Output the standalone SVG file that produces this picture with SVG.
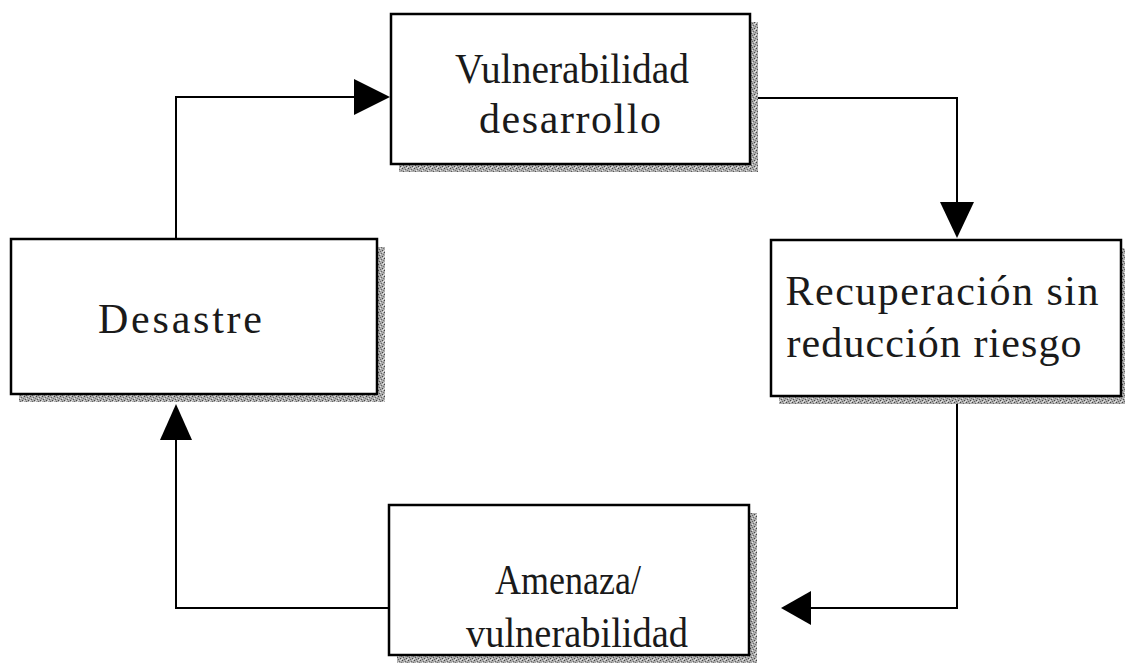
<svg xmlns="http://www.w3.org/2000/svg" width="1125" height="668" viewBox="0 0 1125 668">
  <style>
    .box { fill: #ffffff; stroke: #000000; stroke-width: 2.5; }
    .shadow { fill: url(#speckle); }
    .label { font-family: "Liberation Serif", "Times New Roman", serif; font-size: 42px; fill: #1a1a1a; text-anchor: middle; }
    .conn { fill: none; stroke: #000000; stroke-width: 2; }
    .head { fill: #000000; }
  </style>
  <defs>
    <pattern id="speckle" width="6" height="6" patternUnits="userSpaceOnUse">
      <rect width="6" height="6" fill="#acacac"/>
      <rect x="0" y="0" width="1" height="1" fill="#444"/>
      <rect x="3" y="1" width="1" height="1" fill="#666"/>
      <rect x="1" y="3" width="1" height="1" fill="#555"/>
      <rect x="4" y="4" width="1" height="1" fill="#444"/>
      <rect x="5" y="2" width="1" height="1" fill="#777"/>
      <rect x="2" y="5" width="1" height="1" fill="#666"/>
      <rect x="2" y="2" width="1" height="1" fill="#e8e8e8"/>
      <rect x="5" y="5" width="1" height="1" fill="#e8e8e8"/>
      <rect x="4" y="0" width="1" height="1" fill="#dddddd"/>
      <rect x="0" y="4" width="1" height="1" fill="#dddddd"/>
    </pattern>
  </defs>
  <rect width="1125" height="668" fill="#ffffff"/>

  <g id="connectors">
    <polyline class="conn" points="176,238 176,97 360,97"/>
    <polygon class="head" points="390,97 354,79 354,115"/>
    <polyline class="conn" points="751,98 957,98 957,206"/>
    <polygon class="head" points="957,238 940,202 974,202"/>
    <polyline class="conn" points="957,397 957,608 808,608"/>
    <polygon class="head" points="781,608 811,591 811,625"/>
    <polyline class="conn" points="389,608 176,608 176,436"/>
    <polygon class="head" points="176,404 160,440 192,440"/>
  </g>

  <g id="node-vulnerabilidad-desarrollo">
    <rect class="shadow" x="399" y="22" width="359" height="150"/>
    <rect class="box" x="391" y="14" width="359" height="150"/>
    <text class="label" x="572" y="83" textLength="234" lengthAdjust="spacingAndGlyphs">Vulnerabilidad</text>
    <text class="label" x="570" y="133" textLength="182" lengthAdjust="spacing">desarrollo</text>
  </g>

  <g id="node-desastre">
    <rect class="shadow" x="19" y="247" width="366" height="155"/>
    <rect class="box" x="11" y="239" width="366" height="155"/>
    <text class="label" x="180" y="333" textLength="164" lengthAdjust="spacing">Desastre</text>
  </g>

  <g id="node-recuperacion">
    <rect class="shadow" x="779" y="248" width="350" height="156"/>
    <rect class="box" x="771" y="240" width="350" height="156"/>
    <text class="label" x="942" y="305" textLength="313" lengthAdjust="spacing">Recuperación sin</text>
    <text class="label" x="934" y="357" textLength="295" lengthAdjust="spacing">reducción riesgo</text>
  </g>

  <g id="node-amenaza">
    <rect class="shadow" x="397" y="513" width="360" height="150"/>
    <rect class="box" x="389" y="505" width="360" height="150"/>
    <text class="label" x="568" y="594" textLength="146" lengthAdjust="spacingAndGlyphs">Amenaza/</text>
    <text class="label" x="577" y="647" textLength="222" lengthAdjust="spacingAndGlyphs">vulnerabilidad</text>
  </g>
</svg>
